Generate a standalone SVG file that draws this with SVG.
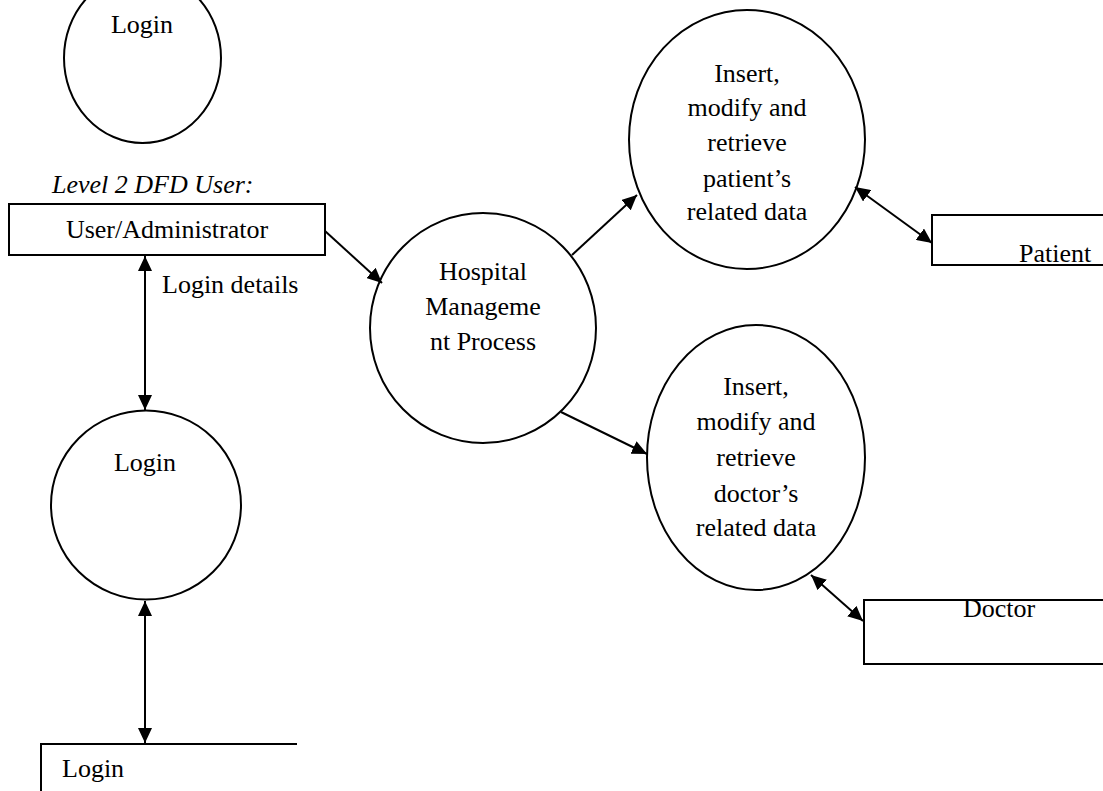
<svg xmlns="http://www.w3.org/2000/svg" width="1103" height="791" viewBox="0 0 1103 791">
<style>
  .shape { fill: #fff; stroke: #000; stroke-width: 2; }
  .line { fill: none; stroke: #000; stroke-width: 2; }
  .conn { fill: none; stroke: #000; stroke-width: 2; }
  text { font-family: "Liberation Serif", "Times New Roman", serif; font-size: 26px; fill: #000; }
  .c { text-anchor: middle; }
  .it { font-style: italic; }
</style>
<defs>
  <marker id="ah" markerUnits="userSpaceOnUse" markerWidth="16" markerHeight="14" refX="15" refY="7" orient="auto-start-reverse">
    <path d="M0,0 L15,7 L0,14 z" fill="#000"/>
  </marker>
</defs>
<rect width="1103" height="791" fill="#fff"/>

<g id="login-top">
  <ellipse class="shape" cx="142.5" cy="58" rx="78.5" ry="85"/>
  <text class="c" x="142" y="33">Login</text>
</g>

<g id="title">
  <text class="it" x="52" y="193">Level 2 DFD User:</text>
</g>

<g id="user-admin">
  <rect class="shape" x="9" y="204" width="316" height="51"/>
  <text class="c" x="167" y="238">User/Administrator</text>
</g>

<g id="login-process">
  <ellipse class="shape" cx="146" cy="505" rx="95" ry="94.5"/>
  <text class="c" x="145" y="471">Login</text>
</g>

<g id="login-store">
  <path class="line" d="M297,744 H41 V795"/>
  <text x="62" y="777">Login</text>
</g>

<g id="hospital">
  <ellipse class="shape" cx="483" cy="328" rx="113" ry="115"/>
  <text class="c" x="483" y="280">Hospital</text>
  <text class="c" x="483" y="315">Manageme</text>
  <text class="c" x="483" y="350">nt Process</text>
</g>

<g id="patient-process">
  <ellipse class="shape" cx="747" cy="139.5" rx="118" ry="129.5"/>
  <text class="c" x="747" y="82">Insert,</text>
  <text class="c" x="747" y="116">modify and</text>
  <text class="c" x="747" y="151">retrieve</text>
  <text class="c" x="747" y="187">patient’s</text>
  <text class="c" x="747" y="220">related data</text>
</g>

<g id="patient-store">
  <rect class="shape" x="932" y="215" width="190" height="50"/>
  <text x="1019" y="262">Patient</text>
</g>

<g id="doctor-process">
  <ellipse class="shape" cx="756" cy="457.5" rx="109" ry="132.5"/>
  <text class="c" x="756" y="395">Insert,</text>
  <text class="c" x="756" y="430">modify and</text>
  <text class="c" x="756" y="466">retrieve</text>
  <text class="c" x="756" y="502">doctor’s</text>
  <text class="c" x="756" y="536">related data</text>
</g>

<g id="doctor-store">
  <rect class="shape" x="864" y="600" width="260" height="64"/>
  <text class="c" x="999" y="617">Doctor</text>
</g>

<g id="connectors">
  <line class="conn" x1="145" y1="256" x2="145" y2="410" marker-start="url(#ah)" marker-end="url(#ah)"/>
  <text x="162" y="293">Login details</text>
  <line class="conn" x1="145" y1="601" x2="145" y2="743" marker-start="url(#ah)" marker-end="url(#ah)"/>
  <line class="conn" x1="325" y1="231" x2="382" y2="283" marker-end="url(#ah)"/>
  <line class="conn" x1="572" y1="255" x2="637" y2="195" marker-end="url(#ah)"/>
  <line class="conn" x1="561" y1="412" x2="647" y2="454" marker-end="url(#ah)"/>
  <line class="conn" x1="855" y1="187" x2="932" y2="243" marker-start="url(#ah)" marker-end="url(#ah)"/>
  <line class="conn" x1="811" y1="575" x2="863" y2="621" marker-start="url(#ah)" marker-end="url(#ah)"/>
</g>
</svg>
